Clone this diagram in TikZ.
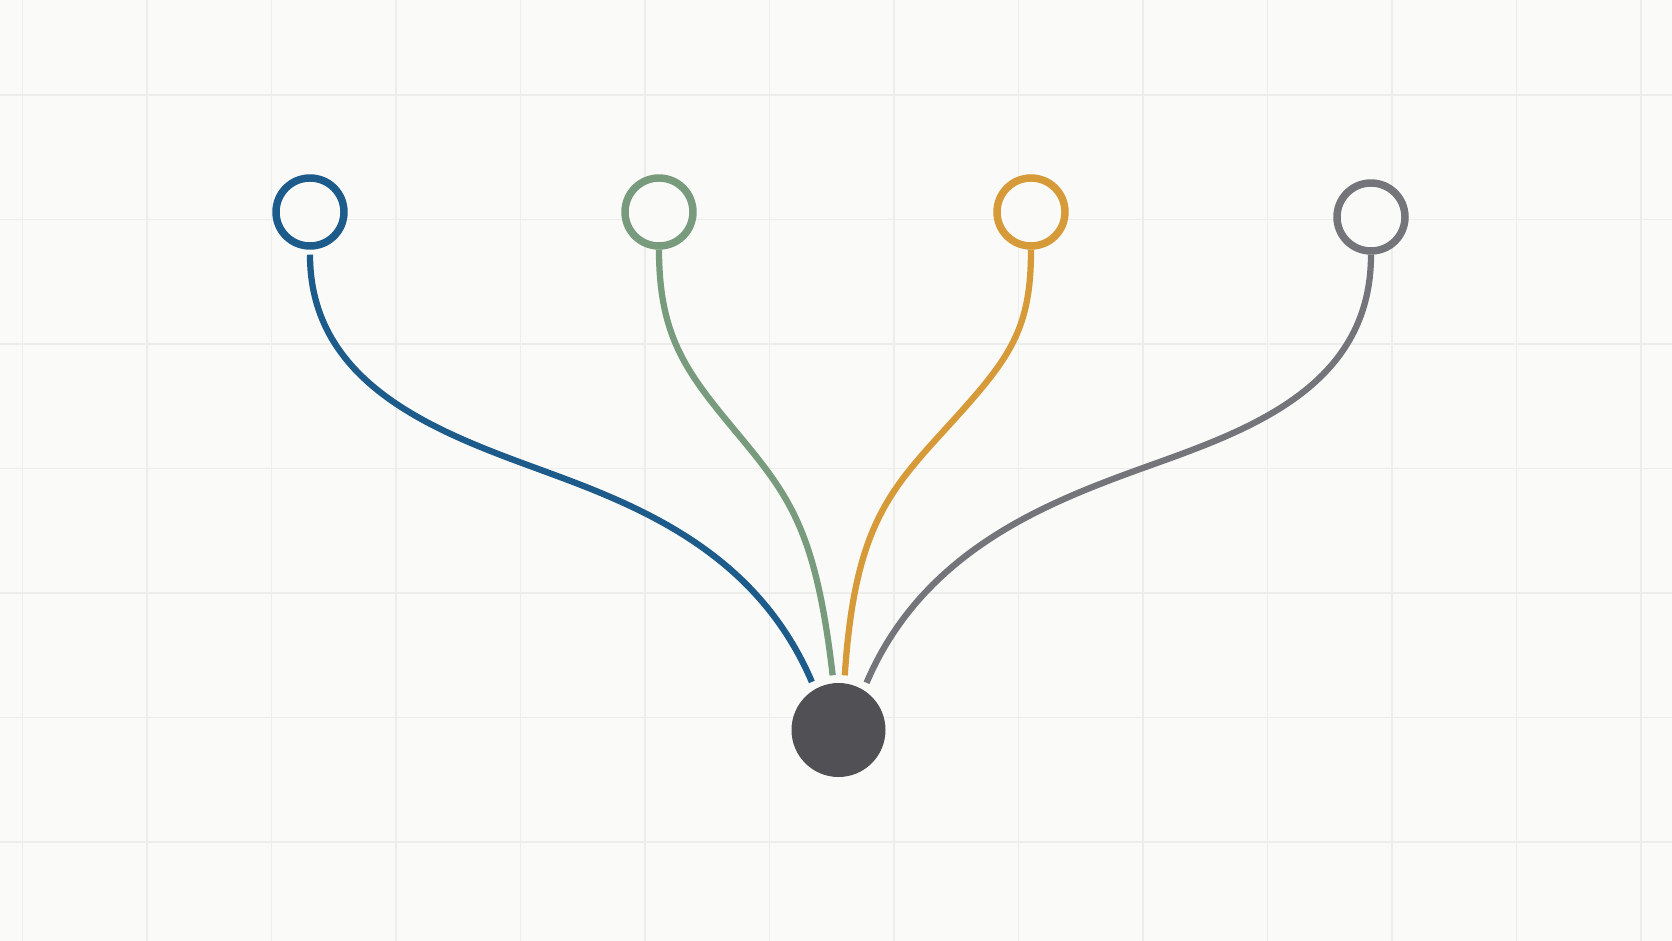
\documentclass[tikz,border=0pt]{standalone}
\definecolor{cbg}{HTML}{FAFAF8}
\definecolor{cgrid}{HTML}{EDEDEB}
\definecolor{cblue}{HTML}{1D5B8B}
\definecolor{cgreen}{HTML}{789B7E}
\definecolor{corange}{HTML}{D69A38}
\definecolor{cgray}{HTML}{74757A}
\definecolor{chub}{HTML}{505055}

\tikzset{every picture/.style={line width=0.75pt}}

\begin{document}
\begin{tikzpicture}[x=0.75pt,y=0.75pt,yscale=-1,xscale=1,
	ring/.style={circle,draw=#1,line width=5.6pt,fill=cbg,minimum size=51pt,inner sep=0pt},
	link/.style={draw=#1,line width=4.7pt},
	gridline/.style={cgrid,line width=1.1pt}]
	%set diagram: width 1672, height 941
	\fill [cbg] (0,0) rectangle (1672,941);
	\useasboundingbox (0,0) rectangle (1672,941);
	
	%Grid
	\foreach \gx in {0,...,13}
		\draw [gridline] ({22.5+124.5*\gx},0) -- ({22.5+124.5*\gx},941);
	\foreach \gy in {0,...,6}
		\draw [gridline] (0,{95+124.5*\gy}) -- (1672,{95+124.5*\gy});
	
	%Shape: Circle
	\node [ring=cblue] (lb) at (310,212) {};
	%Shape: Circle
	\node [ring=cgreen] (lg) at (659,212) {};
	%Shape: Circle
	\node [ring=corange] (lo) at (1031,212) {};
	%Shape: Circle
	\node [ring=cgray] (lr) at (1371,217) {};
	%Shape: Circle
	\node [circle,fill=chub,minimum size=70.5pt,inner sep=0pt,outer sep=0pt] (hub) at (838.5,730) {};
	
	%bends of the curves
	\coordinate (mb) at (560,477);
	\coordinate (mg) at (740,436.7);
	\coordinate (mo) at (940,435);
	\coordinate (mr) at (1121,476);
	
	%Curve Lines
	\draw [link=cblue,shorten <=3.75pt,shorten >=6pt] (lb.south) .. controls +(0,145) and +(-103,-38.5) .. (mb) .. controls +(94,35) and +(-55,-129) .. (hub.120);
	%Curve Lines
	\draw [link=cgreen,shorten >=6pt] (lg.south) .. controls +(0,90) and +(-51.2,-61.6) .. (mg) .. controls +(51.2,61.6) and +(-17.3,-149) .. (hub.96);
	%Curve Lines
	\draw [link=corange,shorten >=6pt] (lo.south) .. controls +(0,85) and +(67.4,-73.9) .. (mo) .. controls +(-53.9,59.1) and +(9.9,-149.7) .. (hub.83);
	%Curve Lines
	\draw [link=cgray,shorten >=6pt] (lr.south) .. controls +(0,145) and +(103,-38.5) .. (mr) .. controls +(-94,35) and +(55,-129) .. (hub.58);
	
\end{tikzpicture}
\end{document}
